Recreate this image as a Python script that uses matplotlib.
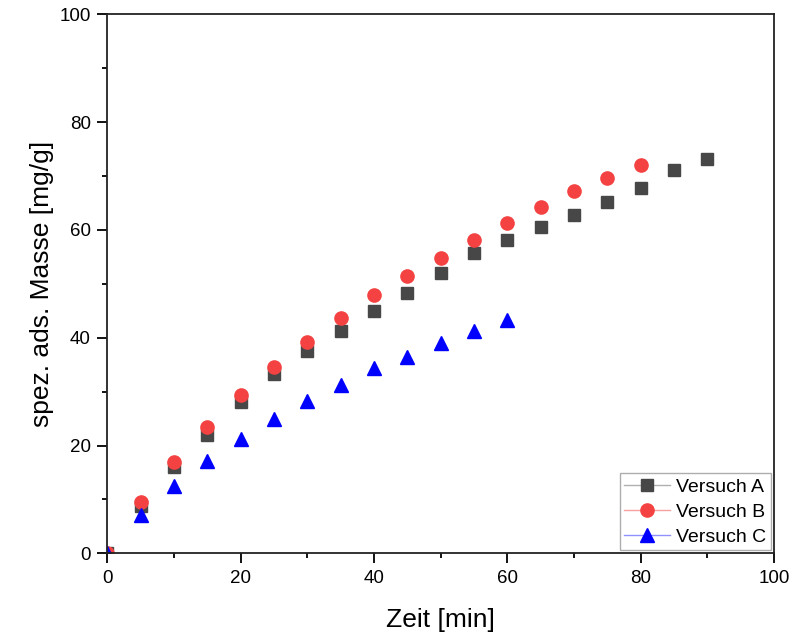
import matplotlib.pyplot as plt
from matplotlib.lines import Line2D
from matplotlib.ticker import MultipleLocator

plt.rcParams['font.family'] = ['Liberation Sans', 'DejaVu Sans']

# Versuch A
zeit_a = [0, 5, 10, 15, 20, 25, 30, 35, 40, 45, 50, 55, 60, 65, 70, 75, 80, 85, 90]
masse_a = [0, 8.8, 16.0, 22.0, 28.1, 33.3, 37.6, 41.3, 44.9, 48.3, 52.0, 55.8, 58.2,
           60.5, 62.8, 65.2, 67.7, 71.2, 73.2]
# Versuch B
zeit_b = [0, 5, 10, 15, 20, 25, 30, 35, 40, 45, 50, 55, 60, 65, 70, 75, 80]
masse_b = [0, 9.6, 17.0, 23.5, 29.4, 34.6, 39.2, 43.7, 47.9, 51.4, 54.8, 58.2, 61.3,
           64.3, 67.3, 69.7, 72.0]
# Versuch C
zeit_c = [0, 5, 10, 15, 20, 25, 30, 35, 40, 45, 50, 55, 60]
masse_c = [0, 7.1, 12.4, 17.2, 21.2, 25.0, 28.2, 31.2, 34.3, 36.5, 39.0, 41.2, 43.3]

fig = plt.figure(figsize=(8.07, 6.4), dpi=100)
ax = fig.add_axes([0.133, 0.1355, 0.826, 0.842])

ax.plot(zeit_a, masse_a, 's', color='#474747', markersize=8.6, label='Versuch A')
ax.plot(zeit_b, masse_b, 'o', color='#f44242', markersize=9.5, label='Versuch B')
ax.plot(zeit_c, masse_c, '^', color='#0000ff', markersize=10.5, label='Versuch C')

ax.set_xlim(0, 100)
ax.set_ylim(0, 100)
ax.xaxis.set_major_locator(MultipleLocator(20))
ax.xaxis.set_minor_locator(MultipleLocator(10))
ax.yaxis.set_major_locator(MultipleLocator(20))
ax.yaxis.set_minor_locator(MultipleLocator(10))
ax.tick_params(which='major', direction='out', length=7, width=1.3, labelsize=13.5, pad=5)
ax.tick_params(which='minor', direction='out', length=3.6, width=1.3)
for s in ax.spines.values():
    s.set_linewidth(1.3)
    s.set_color('#222222')

ax.set_xlabel('Zeit [min]', fontsize=19, labelpad=15)
ax.set_ylabel('spez. ads. Masse [mg/g]', fontsize=19, labelpad=4)

# legend with faint connecting lines like the original
handles = [
    Line2D([], [], color='#b0b0b0', lw=1, marker='s', markersize=8.6,
           markerfacecolor='#474747', markeredgecolor='#474747'),
    Line2D([], [], color='#f8a0a0', lw=1, marker='o', markersize=9.5,
           markerfacecolor='#f44242', markeredgecolor='#f44242'),
    Line2D([], [], color='#9090ff', lw=1, marker='^', markersize=10.5,
           markerfacecolor='#0000ff', markeredgecolor='#0000ff'),
]
leg = ax.legend(handles, ['Versuch A', 'Versuch B', 'Versuch C'], loc='lower right',
                fontsize=14, frameon=True, fancybox=False, edgecolor='#999999',
                borderpad=0.25, labelspacing=0.38, handlelength=2.35, handletextpad=0.3,
                borderaxespad=0.15)
leg.get_frame().set_linewidth(1.0)

plt.savefig('out.png', dpi=100)
